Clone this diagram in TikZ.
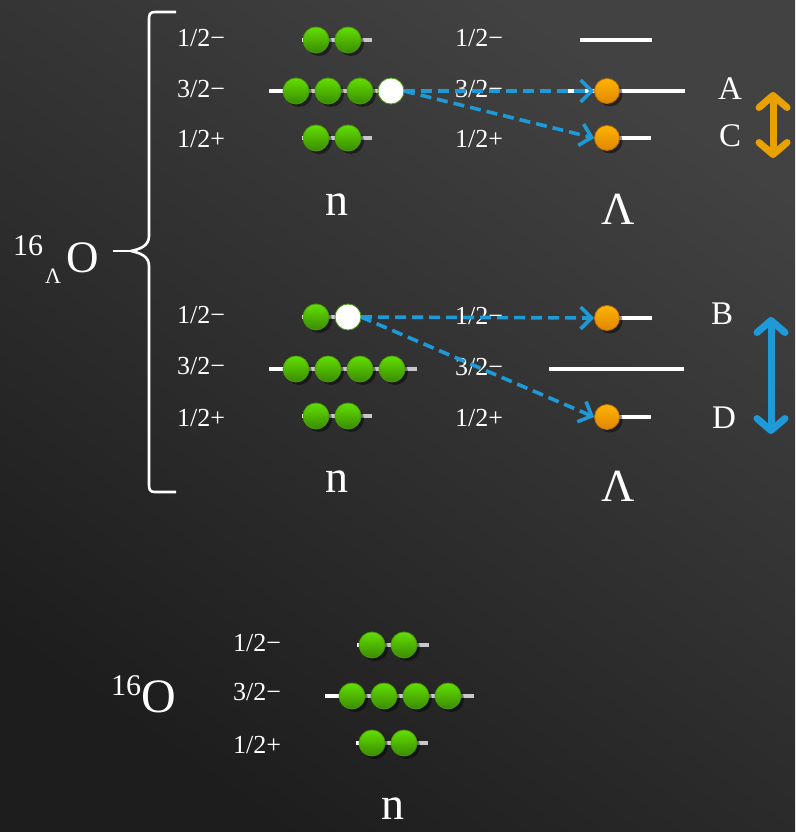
\documentclass[tikz,border=0pt]{standalone}
\usepackage{fontspec}
\setmainfont{Liberation Serif}
\usetikzlibrary{arrows.meta,shadows}
\definecolor{bgA}{HTML}{1D1D1D}
\definecolor{bgB}{HTML}{424242}
\definecolor{gtop}{HTML}{62E000}
\definecolor{gbot}{HTML}{3A8A00}
\definecolor{gedge}{HTML}{4C9A10}
\definecolor{otop}{HTML}{FFB400}
\definecolor{obot}{HTML}{E08600}
\definecolor{oedge}{HTML}{C07000}
\definecolor{arrblue}{HTML}{1E9AD6}
\definecolor{arrorange}{HTML}{E9A100}
\definecolor{lvlgray}{HTML}{C8C8C8}
\tikzset{
  gball/.style={circle,minimum size=26pt,inner sep=0pt,draw=gedge,line width=0.8pt,
    top color=gtop,bottom color=gbot,
    drop shadow={shadow xshift=3pt,shadow yshift=-3pt,opacity=0.45,fill=black}},
  hole/.style={circle,minimum size=26pt,inner sep=0pt,draw=gedge,line width=0.8pt,fill=white},
  oball/.style={circle,minimum size=25pt,inner sep=0pt,draw=oedge,line width=0.8pt,
    top color=otop,bottom color=obot,
    drop shadow={shadow xshift=3pt,shadow yshift=-3pt,opacity=0.45,fill=black}},
  nlevel/.style={draw=lvlgray,line width=3.5pt},
  wlevel/.style={draw=white,line width=3.5pt},
  jlab/.style={text=white,font=\fontsize{26}{26}\selectfont,inner sep=0pt},
  big/.style={text=white,font=\fontsize{46}{46}\selectfont,inner sep=0pt},
  letter/.style={text=white,font=\fontsize{33}{33}\selectfont,inner sep=0pt},
  trans/.style={draw=arrblue,line width=3.6pt,dash pattern=on 11pt off 6pt,
    -{Straight Barb[length=11pt,width=22pt,line width=3.6pt]}},
  dbl/.style={line width=7pt,line cap=round,
    {Straight Barb[length=12pt,width=28pt,line width=7pt,round]}-{Straight Barb[length=12pt,width=28pt,line width=7pt,round]}},
}
\begin{document}
\begin{tikzpicture}[x=1pt,y=-1pt]
% background
\useasboundingbox (0,0) rectangle (795,832);
\shade[top color=bgB,bottom color=bgA,shading angle=-35] (0,0) rectangle (795,832);

% ===== top group =====
\node[jlab] (tl1) at (201,38) {1/2−};
\node[jlab] (tl2) at (201,89) {3/2−};
\node[jlab] (tl3) at (201,139) {1/2+};
\node[jlab] (tr1) at (479,38) {1/2−};
\node[jlab] (tr2) at (479,89) {3/2−};
\node[jlab] (tr3) at (479,139) {1/2+};

\draw[nlevel] (302,40) -- (372,40);
\draw[white,line width=3.5pt] (302,40) -- (306,40);
\node[gball] (ta1) at (316,40) {};
\node[gball] (ta2) at (348,40) {};

\draw[nlevel] (269,91) -- (415,91);
\draw[white,line width=3.5pt] (269,91) -- (285,91);
\node[gball] (tb1) at (296,91) {};
\node[gball] (tb2) at (328,91) {};
\node[gball] (tb3) at (360,91) {};
\node[hole] (tb4) at (391,91) {};

\draw[nlevel] (302,138) -- (372,138);
\draw[white,line width=3.5pt] (302,138) -- (306,138);
\node[gball] (tc1) at (316,138) {};
\node[gball] (tc2) at (348,138) {};

\draw[wlevel] (580,40) -- (652,40);
\draw[wlevel] (558,91) -- (685,91);
\node[oball] (tA) at (607,91) {};
\draw[wlevel] (595,138) -- (651,138);
\node[oball] (tC) at (607,138) {};

\coordinate (tstart) at (404,91);
\draw[trans] (tstart) -- (tA.west);
\draw[trans] (tstart) -- (tC.west);

\node[letter] (lA) at (730,89) {A};
\node[letter] (lC) at (730,136) {C};
\coordinate (oa1) at (773,92);
\coordinate (oa2) at (773,158);
\draw[dbl,draw=arrorange] (oa1) -- (oa2);

\node[big] (tn) at (337,205) {n};
\node[big] (tL) at (618,209) {Λ};

% ===== middle group =====
\node[jlab] (ml1) at (201,315) {1/2−};
\node[jlab] (ml2) at (201,366) {3/2−};
\node[jlab] (ml3) at (201,418) {1/2+};
\node[jlab] (mr1) at (479,316) {1/2−};
\node[jlab] (mr2) at (479,367) {3/2−};
\node[jlab] (mr3) at (479,418) {1/2+};

\draw[nlevel] (302,317) -- (372,317);
\draw[white,line width=3.5pt] (302,317) -- (306,317);
\node[gball] (ma1) at (316,317) {};
\node[hole] (ma2) at (348,317) {};

\draw[nlevel] (269,369) -- (417,369);
\draw[white,line width=3.5pt] (269,369) -- (285,369);
\node[gball] (mb1) at (296,369) {};
\node[gball] (mb2) at (328,369) {};
\node[gball] (mb3) at (360,369) {};
\node[gball] (mb4) at (392,369) {};

\draw[nlevel] (302,416) -- (372,416);
\draw[white,line width=3.5pt] (302,416) -- (306,416);
\node[gball] (mc1) at (316,416) {};
\node[gball] (mc2) at (348,416) {};

\draw[wlevel] (595,318) -- (652,318);
\node[oball] (mB) at (607,318) {};
\draw[wlevel] (549,369) -- (684,369);
\draw[wlevel] (595,417) -- (651,417);
\node[oball] (mD) at (607,417) {};

\coordinate (mstart) at (361,317);
\draw[trans] (mstart) -- (mB.west);
\draw[trans] (mstart) -- (mD.west);

\node[letter] (lB) at (722,314) {B};
\node[letter] (lD) at (724,418) {D};
\coordinate (ba1) at (771,317);
\coordinate (ba2) at (771,434);
\draw[dbl,draw=arrblue] (ba1) -- (ba2);

\node[big] (mn) at (337,482) {n};
\node[big] (mL) at (618,486) {Λ};

% ===== brace and label =====
\draw[white,line width=2.6pt,line join=round]
  (176,12) -- (156,12) .. controls (149,12) and (149,14) .. (149,22)
  -- (149,236) .. controls (149,246) and (140,249) .. (131,251)
  .. controls (140,253) and (149,256) .. (149,266)
  -- (149,482) .. controls (149,490) and (149,492) .. (156,492) -- (176,492);
\coordinate (braceTip) at (131,251);
\coordinate (braceEnd) at (113,251);
\draw[white,line width=2.6pt] (braceTip) -- (braceEnd);
\node[text=white,font=\fontsize{30}{30}\selectfont,inner sep=0pt] (sup16) at (28,246) {16};
\node[text=white,font=\fontsize{22}{22}\selectfont,inner sep=0pt] (subL) at (53,276) {Λ};
\node[text=white,font=\fontsize{45}{45}\selectfont,inner sep=0pt] (bigO) at (83,258) {O};

% ===== bottom group (16O) =====
\node[text=white,font=\fontsize{30}{30}\selectfont,inner sep=0pt] (bsup) at (126,686) {16};
\node[text=white,font=\fontsize{48}{48}\selectfont,inner sep=0pt] (bO) at (159,697) {O};

\node[jlab] (bl1) at (257,643) {1/2−};
\node[jlab] (bl2) at (257,692) {3/2−};
\node[jlab] (bl3) at (257,745) {1/2+};

\draw[nlevel] (357,645) -- (429,645);
\draw[white,line width=3.5pt] (357,645) -- (361,645);
\node[gball] (ba1b) at (372,645) {};
\node[gball] (ba2b) at (404,645) {};

\draw[nlevel] (325,696) -- (474,696);
\draw[white,line width=3.5pt] (325,696) -- (341,696);
\node[gball] (bb1) at (352,696) {};
\node[gball] (bb2) at (384,696) {};
\node[gball] (bb3) at (416,696) {};
\node[gball] (bb4) at (448,696) {};

\draw[nlevel] (356,743) -- (428,743);
\draw[white,line width=3.5pt] (356,743) -- (360,743);
\node[gball] (bc1) at (372,743) {};
\node[gball] (bc2) at (404,743) {};

\node[big] (bn) at (393,809) {n};
\end{tikzpicture}
\end{document}
